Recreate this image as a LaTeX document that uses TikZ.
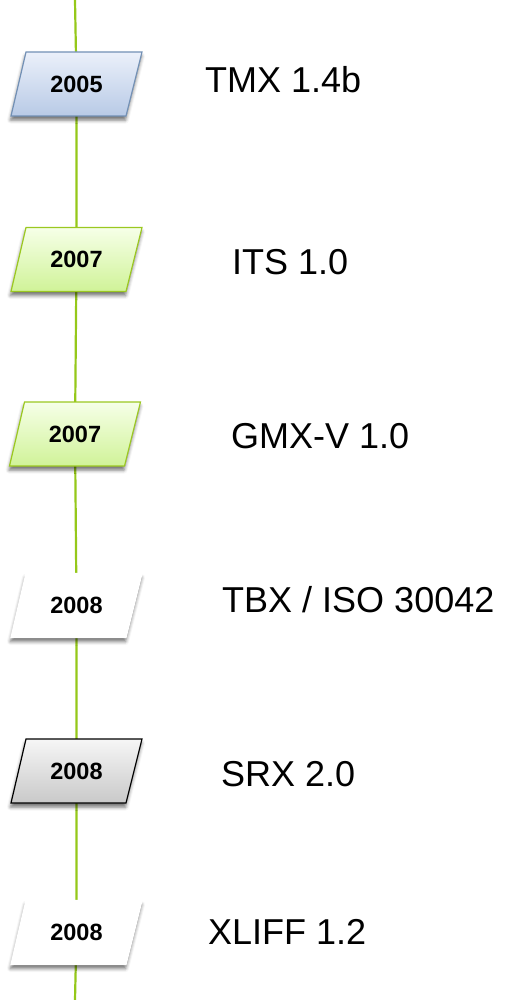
\documentclass[tikz,border=0pt]{standalone}
\usepackage{fontspec}
\setmainfont{Liberation Sans}
\usetikzlibrary{shadows.blur,backgrounds}

\definecolor{timeline}{HTML}{95C81A}
\definecolor{blueTop}{HTML}{EBF0FA}
\definecolor{blueBot}{HTML}{B8CAE6}
\definecolor{blueEdge}{HTML}{7290B5}
\definecolor{greenTop}{HTML}{F6FFE8}
\definecolor{greenBot}{HTML}{D0F398}
\definecolor{greenEdge}{HTML}{9BC820}
\definecolor{grayTop}{HTML}{F6F6F6}
\definecolor{grayBot}{HTML}{C9C9C9}

\tikzset{
  yearshape/.style={line width=1.2pt,
    blur shadow={shadow xshift=-0.5pt, shadow yshift=-4pt, shadow blur radius=3.5pt, shadow opacity=55}},
  bluebox/.style={yearshape, draw=blueEdge, top color=blueTop, bottom color=blueBot},
  greenbox/.style={yearshape, draw=greenEdge, top color=greenTop, bottom color=greenBot},
  graybox/.style={yearshape, draw=black, top color=grayTop, bottom color=grayBot},
  whitebox/.style={yearshape, draw=white, fill=white},
  yeartext/.style={minimum width=116pt, minimum height=64pt, inner sep=0pt,
    font=\fontsize{23.5}{26}\selectfont\bfseries},
  label/.style={anchor=base west, inner sep=0pt, font=\fontsize{36}{40}\selectfont},
  axis/.style={draw=timeline, line width=2.2pt}
}

% \yearmark{name}{x}{y}{style}{year}: slanted box with the year in it
\newcommand\yearmark[5]{%
  \path[#4] (#2-50.5,#3-32) -- (#2+65.5,#3-32) -- (#2+49.5,#3+32) -- (#2-65.5,#3+32) -- cycle;
  \node[yeartext] (#1) at (#2,#3) {#5};
}

\begin{document}
\begin{tikzpicture}[x=1pt, y=-1pt]
  \useasboundingbox (0,0) rectangle (508,1000);

  % year markers on the timeline
  \yearmark{y1}{76.5}{84}{bluebox}{2005}
  \yearmark{y2}{76.5}{259.5}{greenbox}{2007}
  \yearmark{y3}{75}{434}{greenbox}{2007}
  \yearmark{y4}{76.5}{605.5}{whitebox}{2008}
  \yearmark{y5}{76.5}{771}{graybox}{2008}
  \yearmark{y6}{76.5}{932.5}{whitebox}{2008}

  % standard names
  \node[label] (t1) at (205,93)  {TMX 1.4b};
  \node[label] (t2) at (232,274) {ITS 1.0};
  \node[label] (t3) at (231,448) {GMX-V 1.0};
  \node[label] (t4) at (222,612) {TBX / ISO 30042};
  \node[label] (t5) at (221,786) {SRX 2.0};
  \node[label] (t6) at (208,944) {XLIFF 1.2};

  % the vertical time axis, behind the markers
  \coordinate (top) at (75,0);
  \coordinate (bottom) at (75,1000);
  \begin{scope}[on background layer]
    \draw[axis] (top) -- (y1.center) -- (y2.center) -- (y3.center)
      -- (y4.center) -- (y5.center) -- (y6.center) -- (bottom);
  \end{scope}
\end{tikzpicture}
\end{document}
